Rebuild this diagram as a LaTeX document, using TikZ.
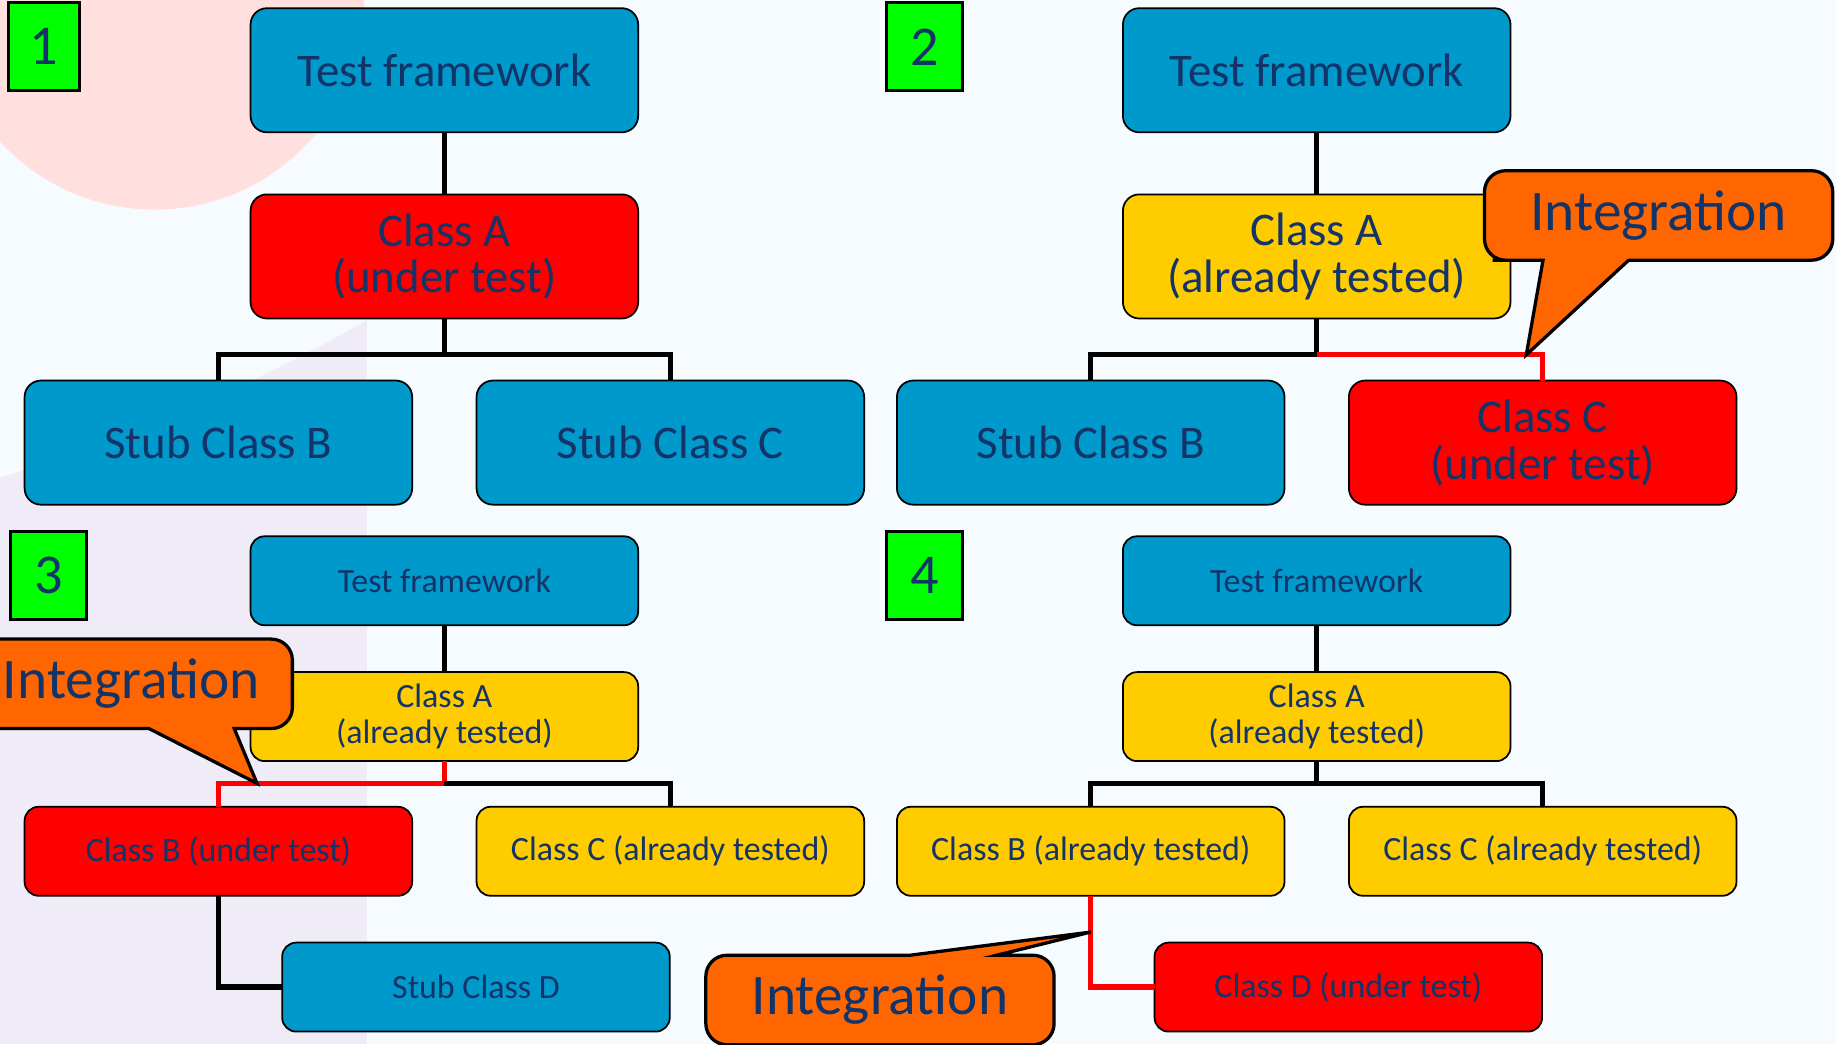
\documentclass[tikz,border=0pt]{standalone}
\usepackage{fontspec}
\setmainfont{Carlito}
\usepackage{tikz}
\usetikzlibrary{positioning,calc}
\definecolor{ink}{RGB}{18,52,104}
\definecolor{blue}{RGB}{0,153,204}
\definecolor{red}{RGB}{255,0,0}
\definecolor{yellow}{RGB}{255,204,0}
\definecolor{orange}{RGB}{255,102,0}
\definecolor{green}{RGB}{0,255,0}
\definecolor{paper}{RGB}{246,251,255}
\definecolor{pink}{RGB}{255,224,223}
\definecolor{lavender}{RGB}{239,236,248}
\tikzstyle{clsbox} = [rectangle, rounded corners=14pt, draw=black, line width=1.5pt, text=ink, align=center, inner sep=0pt, outer sep=0pt, minimum width=331pt]
\tikzstyle{bigbox} = [clsbox, minimum height=106pt, font=\fontsize{40}{40}\selectfont]
\tikzstyle{smallbox} = [clsbox, minimum height=76pt, rounded corners=12pt, font=\fontsize{29}{31}\selectfont]
\tikzstyle{numbox} = [rectangle, draw=black, line width=2.5pt, fill=green, text=ink, minimum width=65pt, minimum height=75pt, inner sep=0pt, font=\fontsize{48}{48}\selectfont]
\tikzstyle{bubble} = [draw=black, line width=2.8pt, fill=orange]
\tikzstyle{bubbletext} = [draw=none, fill=none, text=ink, font=\fontsize{49}{49}\selectfont, minimum width=297pt, minimum height=76pt, inner sep=0pt]
\tikzstyle{wire} = [draw, line width=4.5pt]
\tikzstyle{redwire} = [wire, draw=red]
% callout round a node: node, tip, pointer side, other side, pointer base from/to
\newcommand{\bubbleshape}[6]{%
  \pgfmathsetmacro{\bubblein}{#5/2}%
  \pgfmathsetmacro{\bubbleout}{(1+#6)/2}%
  \draw[bubble] ($(#1.#3 west)!\bubbleout!(#1.#3 east)$) [rounded corners=18pt]
    -- (#1.#3 east) -- (#1.#4 east) -- (#1.#4 west) -- (#1.#3 west)
    -- ($(#1.#3 west)!\bubblein!(#1.#3 east)$) [sharp corners]
    -- ($(#1.#3 west)!#5!(#1.#3 east)$) -- (#2)
    -- ($(#1.#3 west)!#6!(#1.#3 east)$) -- cycle;}

\begin{document}
\begin{tikzpicture}[x=1pt, y=-1pt]

\useasboundingbox (0,0) rectangle (1568,892);
\clip (0,0) rectangle (1568,892);

% background =============================
\fill[paper] (0,0) rectangle (1568,892);
\fill[lavender] (0,0) rectangle (313,892);
\fill[paper] (-439,-1051) circle (1523);
\fill[pink] (132,0) circle (179);

% step 1 =================================
\node[numbox, minimum width=60pt] (numOne) at (37.5,40) {1};
\node[bigbox, fill=blue] (frameOne) at (379.5,60) {Test framework};
\node[bigbox, fill=red, below=53pt of frameOne] (classAOne) {Class A\\(under test)};
\node[bigbox, fill=blue, below=53pt of classAOne, xshift=-193pt] (stubBOne) {Stub Class B};
\node[bigbox, fill=blue, below=53pt of classAOne, xshift=193pt] (stubCOne) {Stub Class C};

% step 2 =================================
\node[numbox] (numTwo) at (789.5,40) {2};
\node[bigbox, fill=blue, right=414pt of frameOne] (frameTwo) {Test framework};
\node[bigbox, fill=yellow, below=53pt of frameTwo] (classATwo) {Class A\\(already tested)};
\node[bigbox, fill=blue, below=53pt of classATwo, xshift=-193pt] (stubBTwo) {Stub Class B};
\node[bigbox, fill=red, below=53pt of classATwo, xshift=193pt] (classCTwo) {Class C\\(under test)};

% step 3 =================================
\node[numbox] (numThree) at (41.5,491.5) {3};
\node[smallbox, fill=blue] (frameThree) at (379.5,496) {Test framework};
\node[smallbox, fill=yellow, below=40pt of frameThree] (classAThree) {Class A\\(already tested)};
\node[smallbox, fill=red, below=39pt of classAThree, xshift=-193pt] (classBThree) {Class B (under test)};
\node[smallbox, fill=yellow, below=39pt of classAThree, xshift=193pt] (classCThree) {Class C (already tested)};
\node[smallbox, fill=blue, below=40pt of classBThree, xshift=220pt] (stubDThree) {Stub Class D};

% step 4 =================================
\node[numbox] (numFour) at (789.5,491.5) {4};
\node[smallbox, fill=blue, right=414pt of frameThree] (frameFour) {Test framework};
\node[smallbox, fill=yellow, below=40pt of frameFour] (classAFour) {Class A\\(already tested)};
\node[smallbox, fill=yellow, below=39pt of classAFour, xshift=-193pt] (classBFour) {Class B (already tested)};
\node[smallbox, fill=yellow, below=39pt of classAFour, xshift=193pt] (classCFour) {Class C (already tested)};
\node[smallbox, fill=red, below=40pt of classBFour, xshift=220pt] (classDFour) {Class D (under test)};

% edges
\draw[wire] (frameOne) -- (classAOne);
\draw[wire] (classAOne.south) -- ++(0,31) coordinate (busOne);
\draw[wire] (stubBOne.north) |- (busOne) -| (stubCOne.north);

\draw[wire] (frameTwo) -- (classATwo);
\draw[wire] (classATwo.south) -- ++(0,31) coordinate (busTwo);
\draw[wire] (stubBTwo.north) |- (busTwo);
\draw[redwire] (busTwo) -| (classCTwo.north);

\draw[wire] (frameThree) -- (classAThree);
\draw[redwire] (classAThree.south) -- ++(0,19) coordinate (busThree) -| (classBThree.north);
\draw[wire] (busThree) -| (classCThree.north);
\draw[wire] (classBThree.south) |- (stubDThree.west);

\draw[wire] (frameFour) -- (classAFour);
\draw[wire] (classAFour.south) -- ++(0,19) coordinate (busFour);
\draw[wire] (classBFour.north) |- (busFour) -| (classCFour.north);
\draw[redwire] (classBFour.south) |- (classDFour.west);

% integration callouts
\coordinate (tipTwo) at ($(busTwo)+(179,0)$);
\node[bubbletext] (callTwo) at (1416.5,184) {};
\bubbleshape{callTwo}{tipTwo}{south}{north}{0.168}{0.414}
\node[bubbletext] (callTwoText) at (callTwo) {Integration};

\coordinate (tipThree) at ($(busThree)+(-160,0)$);
\node[bubbletext] (callThree) at (101,584) {};
\bubbleshape{callThree}{tipThree}{south}{north}{0.588}{0.833}
\node[bubbletext, xshift=11pt] (callThreeText) at (callThree) {Integration};

\coordinate (tipFour) at ($(classBFour.south)+(0,31)$);
\node[bubbletext] (callFour) at (751.5,854) {};
\bubbleshape{callFour}{tipFour}{north}{south}{0.586}{0.835}
\node[bubbletext] (callFourText) at (callFour) {Integration};

\end{tikzpicture}
\end{document}
